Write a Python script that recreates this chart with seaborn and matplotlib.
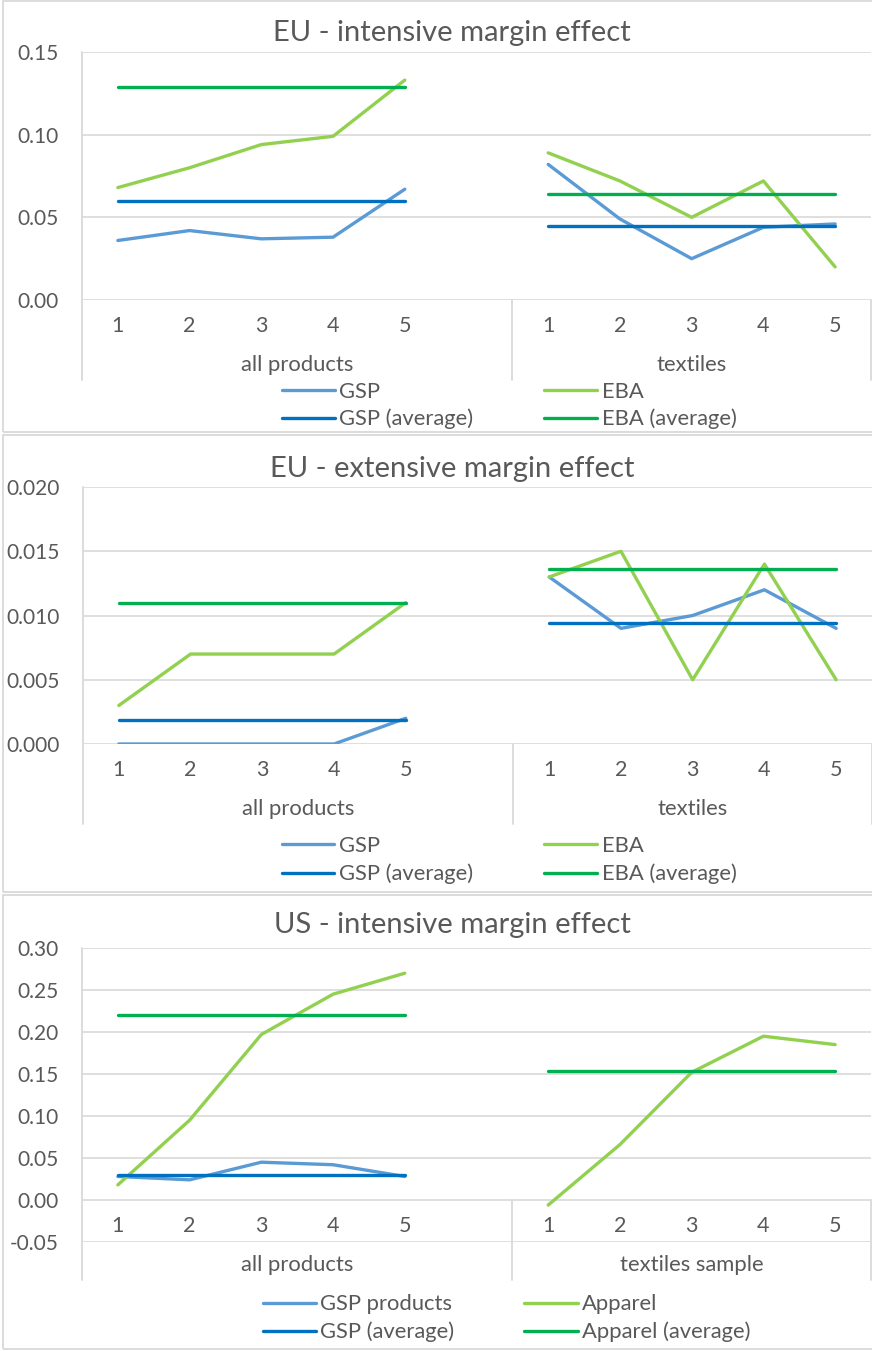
import numpy as np
import pandas as pd
import seaborn as sns
import matplotlib
matplotlib.use("Agg")
import matplotlib.pyplot as plt
from matplotlib.lines import Line2D
from matplotlib.patches import Rectangle
import matplotlib.transforms as mtransforms

sns.set_theme(style="white")
plt.rcParams["font.family"] = ["Lato", "DejaVu Sans"]

W, H, DPI = 872, 1351, 100
TEXT = "#595959"
GRID = "#D9D9D9"

quintiles = ["1", "2", "3", "4", "5"]

# ---- EU - intensive margin effect ----
eu_int_groups = ["all products", "textiles"]
eu_int_gsp_all = [0.036, 0.042, 0.037, 0.038, 0.067]
eu_int_eba_all = [0.068, 0.080, 0.094, 0.099, 0.133]
eu_int_gsp_avg_all = [0.060] * 5
eu_int_eba_avg_all = [0.129] * 5
eu_int_gsp_tex = [0.082, 0.049, 0.025, 0.044, 0.046]
eu_int_eba_tex = [0.089, 0.072, 0.050, 0.072, 0.020]
eu_int_gsp_avg_tex = [0.045] * 5
eu_int_eba_avg_tex = [0.064] * 5
eu_int_yticks = [0.00, 0.05, 0.10, 0.15]

# ---- EU - extensive margin effect ----
eu_ext_groups = ["all products", "textiles"]
eu_ext_gsp_all = [0.000, 0.000, 0.000, 0.000, 0.002]
eu_ext_eba_all = [0.003, 0.007, 0.007, 0.007, 0.011]
eu_ext_gsp_avg_all = [0.0019] * 5
eu_ext_eba_avg_all = [0.011] * 5
eu_ext_gsp_tex = [0.013, 0.009, 0.010, 0.012, 0.009]
eu_ext_eba_tex = [0.013, 0.015, 0.005, 0.014, 0.005]
eu_ext_gsp_avg_tex = [0.0094] * 5
eu_ext_eba_avg_tex = [0.0136] * 5
eu_ext_yticks = [0.000, 0.005, 0.010, 0.015, 0.020]

# ---- US - intensive margin effect ----
us_int_groups = ["all products", "textiles sample"]
us_int_gsp_all = [0.028, 0.024, 0.045, 0.042, 0.028]
us_int_app_all = [0.018, 0.095, 0.197, 0.245, 0.270]
us_int_gsp_avg_all = [0.030] * 5
us_int_app_avg_all = [0.220] * 5
us_int_app_tex = [-0.006, 0.066, 0.152, 0.195, 0.185]
us_int_app_avg_tex = [0.153] * 5
us_int_yticks = [-0.05, 0.00, 0.05, 0.10, 0.15, 0.20, 0.25, 0.30]

C_LIGHT_BLUE = "#5B9BD5"
C_DARK_BLUE = "#0070C0"
C_LIGHT_GREEN = "#92D050"
C_DARK_GREEN = "#00B050"
LW = 2.4

FS_YTICK = 15
FS_CAT = 15.5
FS_GROUP = 15.8
FS_LEGEND = 15.8
FS_TITLE = 21


def long_frame(series):
    """series: list of (name, values_group1, values_group2)."""
    rows = []
    for name, g1, g2 in series:
        for gi, vals in enumerate((g1, g2)):
            if vals is None:
                continue
            for k, v in enumerate(vals):
                slot = k + 6 * gi
                rows.append({"series": name, "segment": f"{name}|{gi}",
                             "slot": slot, "value": v})
    return pd.DataFrame(rows)


def px_axes(left, right, top, bottom):
    return [left / W, 1 - bottom / H, (right - left) / W, (bottom - top) / H]


fig = plt.figure(figsize=(W / DPI, H / DPI), dpi=DPI)
fig.patch.set_facecolor("white")

# chart frames
for y0, y1 in [(1.5, 432), (435, 892), (895, 1348.5)]:
    fig.add_artist(Rectangle((2.5 / W, 1 - y1 / H), 900 / W, (y1 - y0) / H,
                             transform=fig.transFigure, fill=False,
                             ec=GRID, lw=1.3))


def draw_panel(rect, ylim, yticks, fmt, title, title_base, groups, series,
               palette, legend_rows, legend_cols):
    ax = fig.add_axes(rect)
    df = long_frame(series)
    names = [s[0] for s in series]
    sns.lineplot(data=df, x="slot", y="value", hue="series", units="segment",
                 estimator=None, hue_order=names, palette=palette,
                 linewidth=LW, legend=False, sort=False, ax=ax,
                 solid_capstyle="round")
    ax.set_xlim(-0.5, 10.5)
    ax.set_ylim(*ylim)
    ax.set_yticks(yticks)
    ax.set_yticklabels([fmt.format(v) for v in yticks])
    ax.tick_params(axis="y", length=0, pad=17, labelsize=FS_YTICK,
                   labelcolor=TEXT)
    ax.set_xticks([])
    ax.set_xlabel("")
    ax.set_ylabel("")
    ax.yaxis.grid(True, color=GRID, lw=1.2)
    ax.set_axisbelow(True)
    for sp in ax.spines.values():
        sp.set_visible(False)
    ax.set_facecolor("none")

    # data units per pixel in y
    bbox = ax.get_window_extent()
    dpu = (ylim[1] - ylim[0]) / bbox.height
    drop = -80 * dpu

    # category axis frame lines
    ax.plot([-0.5, -0.5], [ylim[1], drop], color=GRID, lw=1.3,
            clip_on=False, zorder=0.5)
    for xs in (5.5, 10.5):
        ax.plot([xs, xs], [0, drop], color=GRID, lw=1.3,
                clip_on=False, zorder=0.5)

    # category labels (quintiles) and group labels
    tick_tr = mtransforms.offset_copy(ax.transData, fig=fig, y=-32, units="dots")
    grp_tr = mtransforms.offset_copy(ax.transData, fig=fig, y=-71, units="dots")
    for gi, gname in enumerate(groups):
        for k, q in enumerate(quintiles):
            ax.text(k + 6 * gi, 0, q, transform=tick_tr, ha="center",
                    va="baseline", fontsize=FS_CAT, color=TEXT)
        center = 2.5 if gi == 0 else 8.0
        ax.text(center, 0, gname, transform=grp_tr, ha="center",
                va="baseline", fontsize=FS_GROUP, color=TEXT)

    # chart title
    fig.text(452 / W, 1 - title_base / H, title, ha="center", va="baseline",
             fontsize=FS_TITLE, color=TEXT)

    # legend (2 x 2)
    (ya, yb) = legend_rows
    entries = [(names[0], ya, 0), (names[2], yb, 0),
               (names[1], ya, 1), (names[3], yb, 1)]
    for name, yy, col in entries:
        x0, x1, xt = legend_cols[col]
        fig.add_artist(Line2D([x0 / W, x1 / W], [1 - yy / H, 1 - yy / H],
                              color=palette[name], lw=LW,
                              transform=fig.transFigure,
                              solid_capstyle="round"))
        fig.text(xt / W, 1 - (yy + 7.5) / H, name, ha="left", va="baseline",
                 fontsize=FS_LEGEND, color=TEXT)
    return ax


eu_pal = {"GSP": C_LIGHT_BLUE, "EBA": C_LIGHT_GREEN,
          "GSP (average)": C_DARK_BLUE, "EBA (average)": C_DARK_GREEN}

draw_panel(px_axes(82, 871, 52, 300), (0, 0.15), eu_int_yticks, "{:.2f}",
           "EU - intensive margin effect", 41.5, eu_int_groups,
           [("GSP", eu_int_gsp_all, eu_int_gsp_tex),
            ("EBA", eu_int_eba_all, eu_int_eba_tex),
            ("GSP (average)", eu_int_gsp_avg_all, eu_int_gsp_avg_tex),
            ("EBA (average)", eu_int_eba_avg_all, eu_int_eba_avg_tex)],
           eu_pal, (390, 418), [(282, 335, 339), (544, 597, 602)])

draw_panel(px_axes(83, 872, 487, 744), (0, 0.02), eu_ext_yticks, "{:.3f}",
           "EU - extensive margin effect", 476.5, eu_ext_groups,
           [("GSP", eu_ext_gsp_all, eu_ext_gsp_tex),
            ("EBA", eu_ext_eba_all, eu_ext_eba_tex),
            ("GSP (average)", eu_ext_gsp_avg_all, eu_ext_gsp_avg_tex),
            ("EBA (average)", eu_ext_eba_avg_all, eu_ext_eba_avg_tex)],
           eu_pal, (844, 873), [(282, 334, 339), (544, 597, 602)])

us_pal = {"GSP products": C_LIGHT_BLUE, "Apparel": C_LIGHT_GREEN,
          "GSP (average)": C_DARK_BLUE, "Apparel (average)": C_DARK_GREEN}

draw_panel(px_axes(82, 871, 948, 1242), (-0.05, 0.30), us_int_yticks, "{:.2f}",
           "US - intensive margin effect", 933, us_int_groups,
           [("GSP products", us_int_gsp_all, None),
            ("Apparel", us_int_app_all, us_int_app_tex),
            ("GSP (average)", us_int_gsp_avg_all, None),
            ("Apparel (average)", us_int_app_avg_all, us_int_app_avg_tex)],
           us_pal, (1303, 1331), [(263, 316, 320), (524, 578, 582)])

fig.savefig("out.png", dpi=DPI, facecolor="white")
